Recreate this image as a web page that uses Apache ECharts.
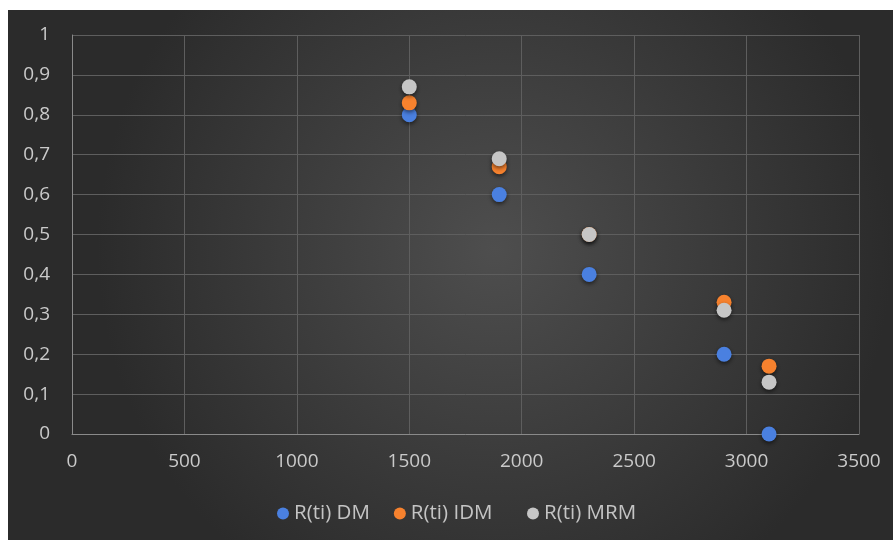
<!DOCTYPE html>
<html>
<head>
<meta charset="utf-8">
<script src="https://cdn.jsdelivr.net/npm/echarts@6/dist/echarts.min.js"></script>
<style>
  html, body { margin: 0; padding: 0; background: #ffffff; }
  #chart { width: 893px; height: 540px; }
</style>
</head>
<body>
<div id="chart"></div>
<script>
// Operating time points (x) and reliability estimates R(ti) per method
const times = [1500, 1900, 2300, 2900, 3100];
const rDM = [0.8, 0.6, 0.4, 0.2, 0];
const rIDM = [0.83, 0.67, 0.5, 0.33, 0.17];
const rMRM = [0.87, 0.69, 0.5, 0.31, 0.13];
const seriesNames = ['R(ti) DM', 'R(ti) IDM', 'R(ti) MRM'];
const seriesColors = ['#4a80e0', '#f7822e', '#c6c6c6'];

const pairs = ys => times.map((t, i) => [t, ys[i]]);
const labelFont = '"Open Sans", "Noto Sans", sans-serif';
const fmtComma = v => String(v).replace('.', ',');

const chart = echarts.init(document.getElementById('chart'), null, { renderer: 'canvas' });

const mkSeries = (name, data, color) => ({
  name: name,
  type: 'scatter',
  data: data,
  symbol: 'circle',
  symbolSize: 15,
  itemStyle: {
    color: color,
    opacity: 1,
    shadowBlur: 4,
    shadowColor: 'rgba(0,0,0,0.55)',
    shadowOffsetY: 2
  },
  emphasis: { disabled: true }
});

const legendBase = {
  top: 503,
  padding: 0,
  icon: 'circle',
  itemWidth: 12, itemHeight: 12,
  itemGap: 24,
  textStyle: { color: '#c4c4c4', fontSize: 20.5, fontFamily: labelFont }
};

chart.setOption({
  animation: false,
  backgroundColor: '#ffffff',
  graphic: [{
    type: 'rect',
    left: 8, top: 10, z: -10, silent: true,
    shape: { width: 885, height: 530 },
    style: {
      fill: {
        type: 'radial', x: 0.55, y: 0.45, r: 0.75,
        colorStops: [
          { offset: 0, color: '#4e4e4e' },
          { offset: 1, color: '#2b2b2b' }
        ]
      }
    }
  }],
  grid: { left: 72, right: 34, top: 35, bottom: 106, containLabel: false },
  legend: [
    Object.assign({}, legendBase, { data: seriesNames.slice(0, 2), left: 277 }),
    Object.assign({}, legendBase, { data: seriesNames.slice(2), left: 527 })
  ],
  xAxis: {
    type: 'value',
    min: 0, max: 3500, interval: 500,
    axisLine: { show: true, lineStyle: { color: '#8a8a8a', width: 1 } },
    axisTick: { show: false },
    splitLine: { show: true, lineStyle: { color: '#5e5e5e', width: 1 } },
    axisLabel: {
      color: '#cacaca', fontSize: 19, fontFamily: labelFont, margin: 18,
      formatter: v => String(v)
    }
  },
  yAxis: {
    type: 'value',
    min: 0, max: 1, interval: 0.1,
    axisLine: { show: true, lineStyle: { color: '#8a8a8a', width: 1 } },
    axisTick: { show: false },
    splitLine: { show: true, lineStyle: { color: '#5e5e5e', width: 1 } },
    axisLabel: {
      color: '#cacaca', fontSize: 19, fontFamily: labelFont, margin: 22,
      formatter: v => fmtComma(Math.round(v * 10) / 10)
    }
  },
  series: [
    mkSeries(seriesNames[0], pairs(rDM), seriesColors[0]),
    mkSeries(seriesNames[1], pairs(rIDM), seriesColors[1]),
    mkSeries(seriesNames[2], pairs(rMRM), seriesColors[2])
  ]
});
</script>
</body>
</html>
